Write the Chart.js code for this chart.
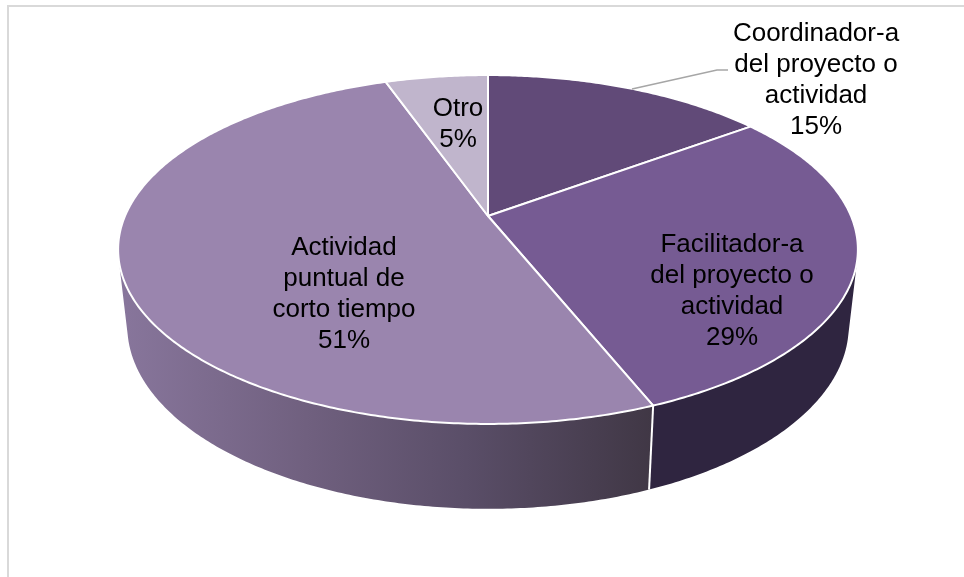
<!DOCTYPE html>
<html><head><meta charset="utf-8">
<style>html,body{margin:0;padding:0;background:#fff}canvas{display:block}</style>
<script src="https://cdn.jsdelivr.net/npm/chart.js@4"></script>
</head><body><canvas id="c" width="964" height="577"></canvas>
<script>
const categories = ["Coordinador-a del proyecto o actividad","Facilitador-a del proyecto o actividad","Actividad puntual de corto tiempo","Otro"];
const labelLines = [["Coordinador-a","del proyecto o","actividad"],["Facilitador-a","del proyecto o","actividad"],["Actividad","puntual de","corto tiempo"],["Otro"]];
const values = [14.9,29.0,50.7,5.4];
const topColors = ["#614a78","#765b93","#9a85ae","#c0b5cc"];
const sideColors = ["#2f2540","#2f2540",null,"#2f2540"];
const labelCenters = [[816,41],[732,252],[344,255],[458,116]];

// projection of the pie circle (ratios of the library's outer radius)
const RATIO = {ax:363/141, by:168/141, k:0.192, botAx:354/141, botBy:176/141, botDrop:75/141};
const FONT = '26px "Liberation Sans", Arial, sans-serif';
const LINE_H = 31;

function project(arc,a,bottom){
  const r=arc.outerRadius,u=Math.cos(a),v=Math.sin(a),w=1-RATIO.k*v;
  const ax=(bottom?RATIO.botAx:RATIO.ax)*r, by=(bottom?RATIO.botBy:RATIO.by)*r;
  const y0=arc.y+(bottom?RATIO.botDrop*r:0);
  return [arc.x+ax*u/w, y0+by*v/w];
}
function arcPts(arc,a0,a1,bottom){
  const n=Math.max(8,Math.ceil(Math.abs(a1-a0)/0.01)),p=[];
  for(let i=0;i<=n;i++)p.push(project(arc,a0+(a1-a0)*i/n,bottom));
  return p;
}
function addQuad(c,q){
  let s=0;
  for(let i=0;i<4;i++){const a=q[i],b=q[(i+1)%4];s+=a[0]*b[1]-b[0]*a[1];}
  if(s<0)q=q.slice().reverse();
  q.forEach((p,j)=>j?c.lineTo(p[0],p[1]):c.moveTo(p[0],p[1]));
  c.closePath();
}
const pie3d={
  id:'pie3d',
  beforeDraw(chart){
    const c=chart.ctx;c.save();c.fillStyle='#fff';c.fillRect(0,0,964,577);
    c.strokeStyle='#d9d9d9';c.lineWidth=2;c.beginPath();c.moveTo(8,577);c.lineTo(8,6);c.lineTo(964,6);c.stroke();c.restore();
  },
  beforeDatasetDraw(chart){
    const c=chart.ctx,arcs=chart.getDatasetMeta(0).data;
    c.save();c.lineJoin='round';
    arcs.forEach((arc,i)=>{
      const t=arcPts(arc,arc.startAngle,arc.endAngle,false),b=arcPts(arc,arc.startAngle,arc.endAngle,true);
      let fill=sideColors[i];
      if(!fill){
        fill=c.createLinearGradient(arc.x-369,0,arc.x+165,0);
        fill.addColorStop(0,'#88769c');fill.addColorStop(0.35,'#70607f');fill.addColorStop(0.65,'#5a4e68');fill.addColorStop(1,'#403745');
      }
      c.fillStyle=fill;c.beginPath();
      for(let j=0;j<t.length-1;j++)addQuad(c,[t[j],t[j+1],b[j+1],b[j]]);
      c.fill();
    });
    arcs.forEach(arc=>{
      if(Math.sin(arc.startAngle)>0){
        const t=project(arc,arc.startAngle,false),b=project(arc,arc.startAngle,true);
        c.strokeStyle='#fff';c.lineWidth=2;c.beginPath();c.moveTo(t[0],t[1]);c.lineTo(b[0],b[1]);c.stroke();
      }
    });
    arcs.forEach((arc,i)=>{
      const pts=arcPts(arc,arc.startAngle,arc.endAngle,false);
      c.fillStyle=topColors[i];c.strokeStyle='#fff';c.lineWidth=2;
      c.beginPath();c.moveTo(arc.x,arc.y);pts.forEach(p=>c.lineTo(p[0],p[1]));c.closePath();c.fill();c.stroke();
    });
    c.restore();
    return false;
  },
  afterDraw(chart){
    const c=chart.ctx;c.save();
    c.strokeStyle='#a6a6a6';c.lineWidth=1.5;c.beginPath();c.moveTo(632,89);c.lineTo(717,70);c.lineTo(728,70);c.stroke();
    c.fillStyle='#000';c.font=FONT;c.textAlign='center';c.textBaseline='alphabetic';
    values.forEach((val,i)=>{
      const lines=labelLines[i].concat([Math.round(val)+'%']);
      lines.forEach((t,j)=>c.fillText(t,labelCenters[i][0],labelCenters[i][1]+j*LINE_H));
    });
    c.restore();
  }
};
new Chart(document.getElementById('c'),{
  type:'pie',
  data:{labels:categories,datasets:[{data:values,backgroundColor:topColors,borderWidth:0}]},
  options:{responsive:false,animation:false,
    layout:{padding:{left:347,right:335,top:75,bottom:220}},
    plugins:{legend:{display:false},tooltip:{enabled:false}}},
  plugins:[pie3d]
});
</script></body></html>
